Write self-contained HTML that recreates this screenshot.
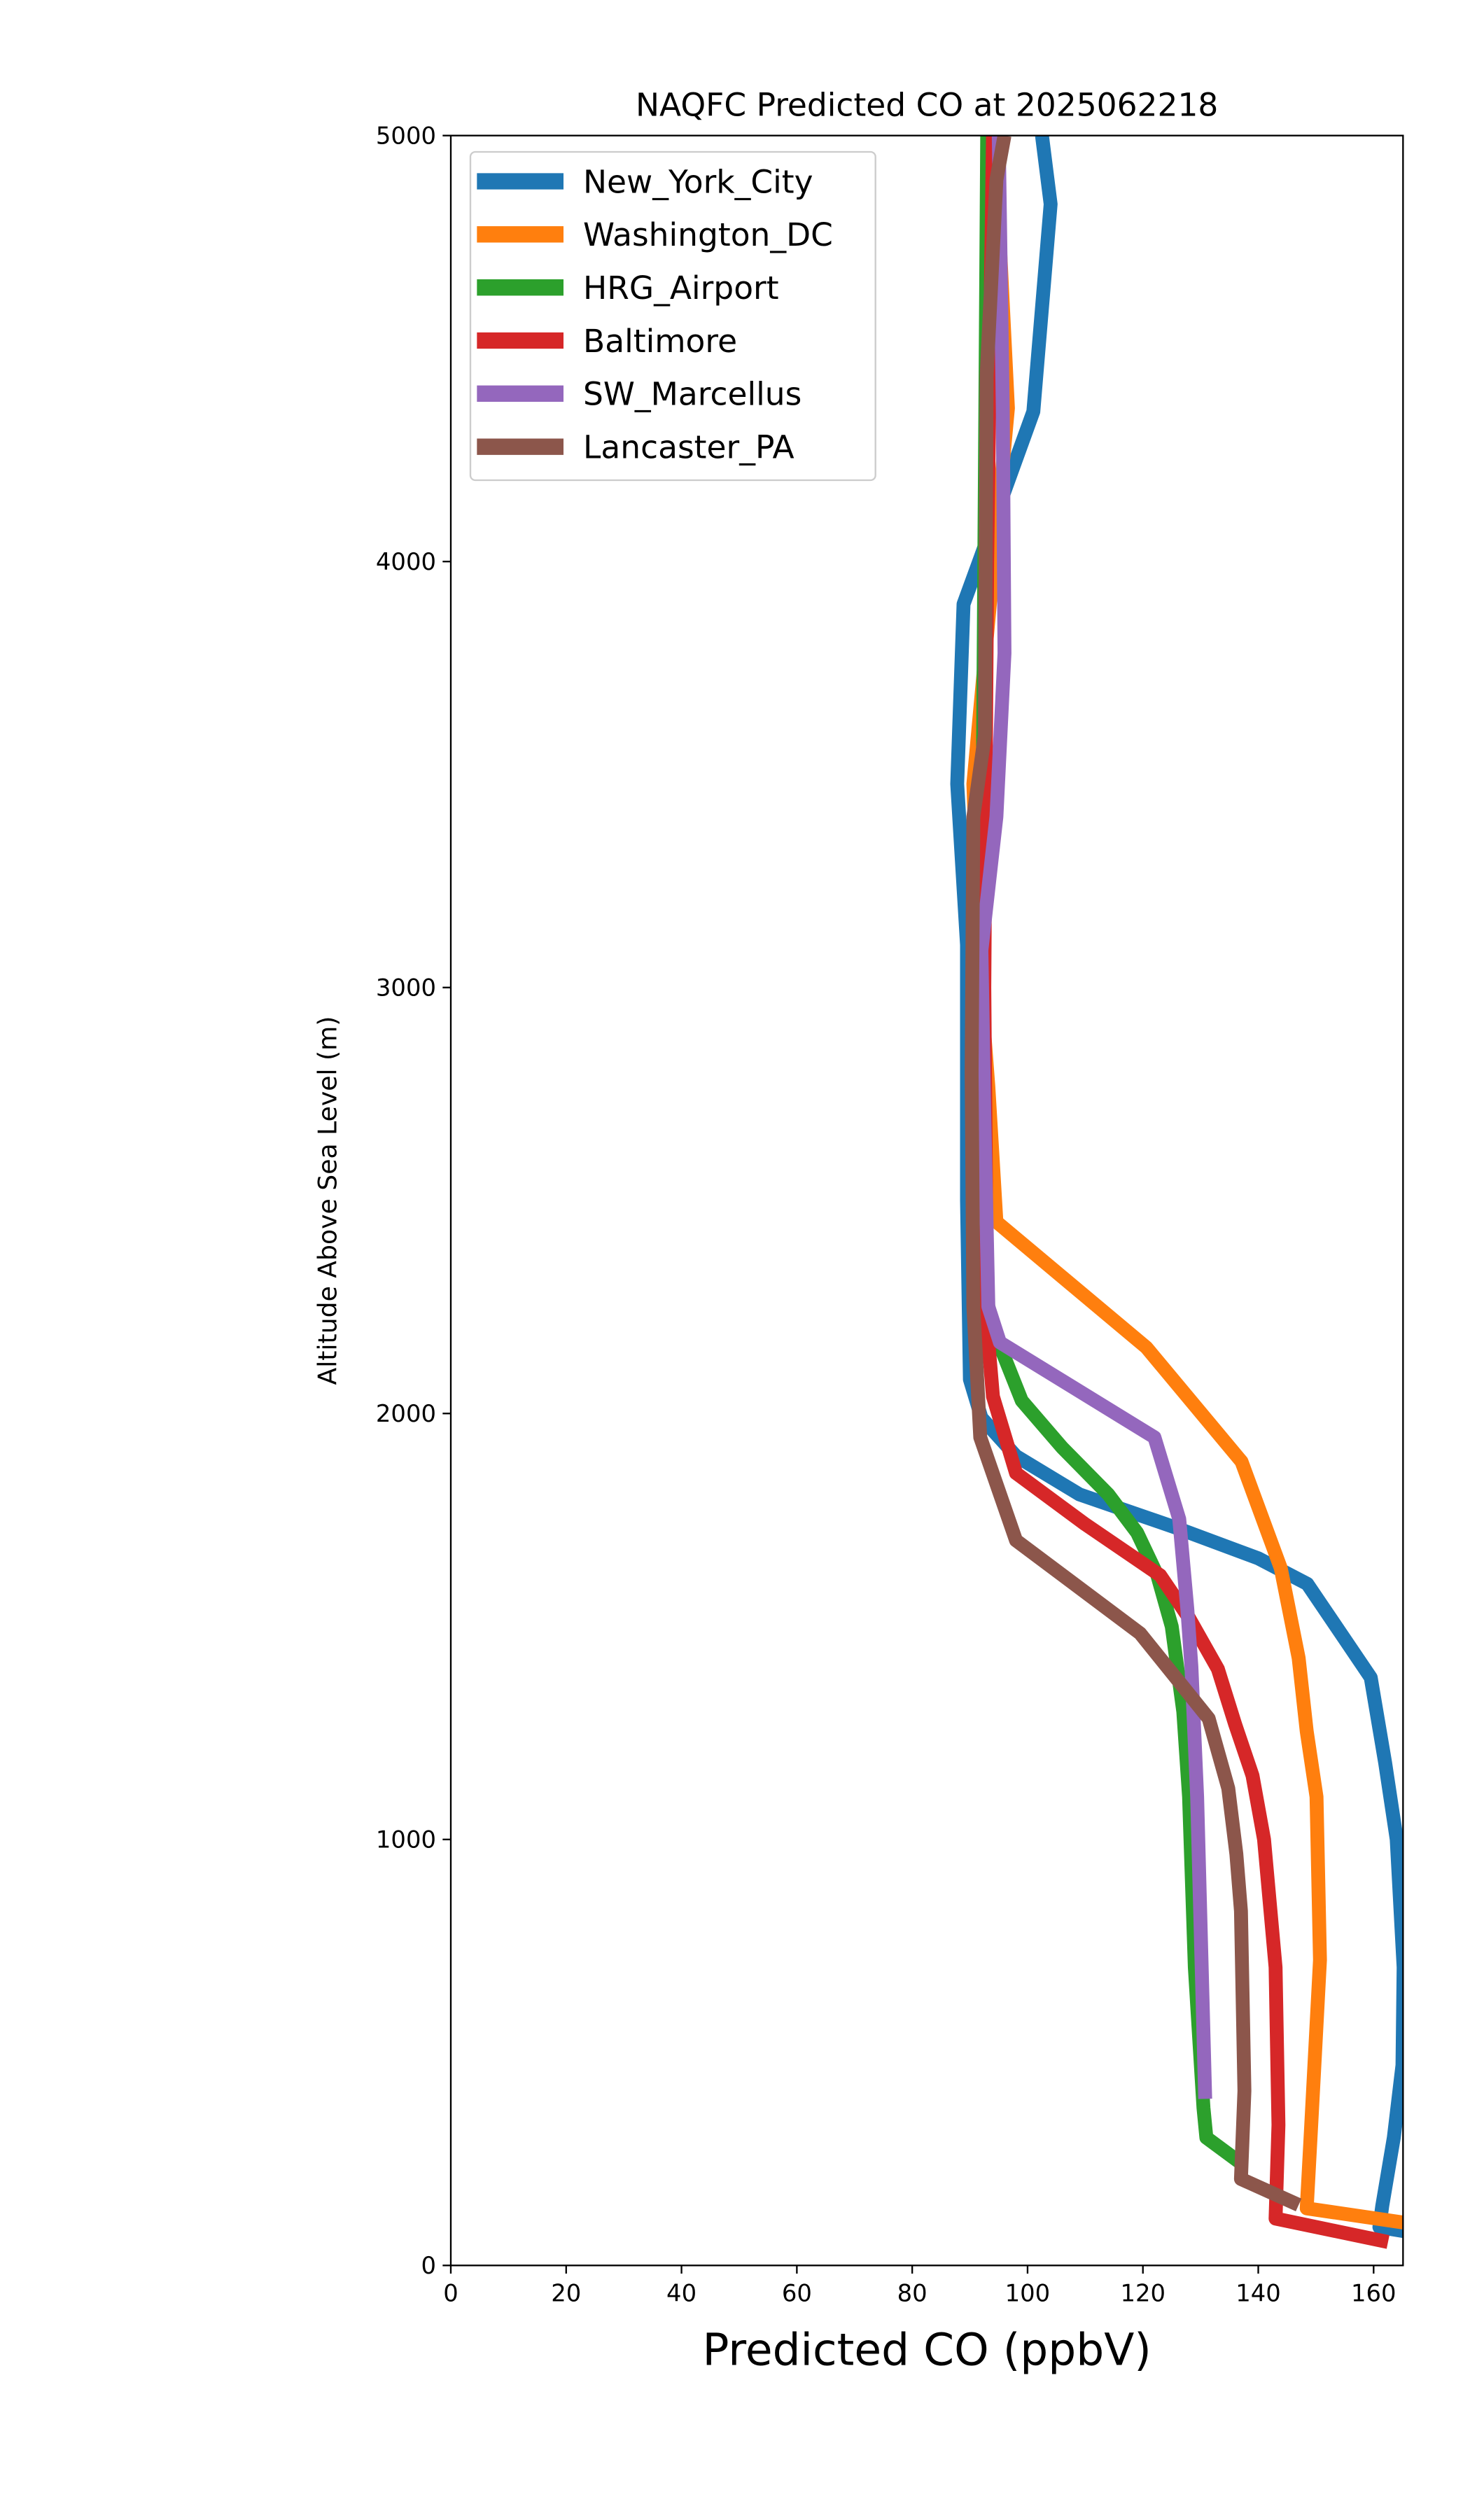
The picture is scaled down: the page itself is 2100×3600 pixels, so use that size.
<!DOCTYPE html>
<html><head><meta charset="utf-8"><style>
html,body{margin:0;padding:0;background:#fff}
svg{display:block}
text{font-family:"DejaVu Sans","Liberation Sans",sans-serif;fill:#000}
</style></head><body>
<svg id="chart" width="2100" height="3600" viewBox="0 0 900 1542.857" xmlns="http://www.w3.org/2000/svg">
<rect x="0" y="0" width="900" height="1543" fill="#fff"/>
<g id="plot"></g>
<g id="axes"></g>
<text x="567.5" y="71" font-size="19.5" text-anchor="middle">NAQFC Predicted CO at 2025062218</text>
<text x="0" y="0" font-size="15.5" text-anchor="middle" transform="translate(206,735) rotate(-90)">Altitude Above Sea Level (m)</text>
<text x="567.5" y="1448" font-size="27" text-anchor="middle">Predicted CO (ppbV)</text>
<g id="legend"></g>
</svg>
<script>
const seriesNames = ["New_York_City","Washington_DC","HRG_Airport","Baltimore","SW_Marcellus","Lancaster_PA"];
const seriesColors = ["#1f77b4","#ff7f0e","#2ca02c","#d62728","#9467bd","#8c564b"];
const xTicks = [0,20,40,60,80,100,120,140,160];
const yTicks = [0,1000,2000,3000,4000,5000];
// each series: [CO ppbV, altitude m]
const nycValues = [[165.5,80],[161,90],[161.5,140],[163.5,300],[165,470],[165.2,700],[164,1000],[162,1180],[159.5,1380],[148.5,1600],[140,1660],[125.5,1733],[109,1810],[98,1900],[92,1990],[90,2080],[89.5,2500],[89.5,3100],[87.8,3478],[88.9,3900],[92,4015],[101,4352],[104,4839],[102.5,5000]];
const dcValues = [[165.5,100],[148.4,134],[149.2,334],[150.7,717],[150.1,1100],[148.4,1254],[147,1426],[143.9,1637],[137.1,1887],[120.6,2155],[94.6,2450],[93.2,2768],[91.8,3018],[90.6,3478],[93.2,3861],[96.6,4360],[95.2,4744],[93.7,5000]];
const hrgValues = [[137,240],[131,300],[130.5,370],[129,700],[128,1100],[127,1300],[125,1500],[122.5,1620],[119,1720],[114,1810],[106,1920],[99,2030],[94,2200],[92,2330],[92,3000],[92.5,4000],[93,5000]];
const baltValues = [[162.5,55],[143,110],[143.5,330],[143,700],[141,1000],[139,1150],[136,1270],[133,1400],[128,1520],[123,1620],[110,1740],[98,1860],[94,2040],[93,2200],[92.5,3000],[93,4000],[94,5000]];
const swmValues = [[130.8,391],[129.4,1100],[128.4,1407],[127.7,1541],[126.3,1752],[122,1944],[95.2,2167],[93.2,2251],[92.5,2700],[92,3087],[94.6,3401],[96,3785],[95.7,4360],[95,5000]];
const lancValues = [[147,142],[137,203],[137.6,410],[137,832],[136.2,966],[134.8,1120],[131.4,1284],[119.5,1484],[98,1702],[91.8,1944],[90.6,2251],[90.3,2800],[90.6,3401],[92.6,3593],[92.9,4436],[94.6,4896],[96,5000]];
const allSeries = [nycValues,dcValues,hrgValues,baltValues,swmValues,lancValues];

const L=276,R=859,T=83,B=1387,XMAX=165.1,YMAX=5000;
function xs(v){return L+(v/XMAX)*(R-L);}
function ys(v){return B-(v/YMAX)*(B-T);}
const NS="http://www.w3.org/2000/svg";
function mk(tag,attrs,parent){const e=document.createElementNS(NS,tag);for(const k in attrs)e.setAttribute(k,attrs[k]);parent.appendChild(e);return e;}
const plot=document.getElementById('plot'),axes=document.getElementById('axes'),legend=document.getElementById('legend');
mk('clipPath',{id:'clip'},plot);
const cr=mk('rect',{x:L,y:T,width:R-L,height:B-T},document.getElementById('clip'));
allSeries.forEach((s,i)=>{
  const p=mk('polyline',{points:s.map(d=>xs(d[0]).toFixed(2)+','+ys(d[1]).toFixed(2)).join(' '),fill:'none',stroke:seriesColors[i],'stroke-width':8.5,'stroke-linejoin':'round','stroke-linecap':'butt','clip-path':'url(#clip)'},plot);
  
  
});
const frame=mk('rect',{x:L,y:T,width:R-L,height:B-T,fill:'none',stroke:'#000','stroke-width':1},axes);


xTicks.forEach(t=>{
  const x=xs(t);
  const tk=mk('line',{x1:x,y1:B,x2:x,y2:B+5,stroke:'#000','stroke-width':1},axes);
  
  
  const tl=mk('text',{x:x,y:B+22,'font-size':14.5,'text-anchor':'middle'},axes);
  tl.textContent=t;
  
  
});
yTicks.forEach(t=>{
  const y=ys(t);
  const tk=mk('line',{x1:L-5,y1:y,x2:L,y2:y,stroke:'#000','stroke-width':1},axes);
  
  
  const tl=mk('text',{x:L-9,y:y+5,'font-size':14.5,'text-anchor':'end'},axes);
  tl.textContent=t;
  
  
});
const lb=mk('rect',{x:288,y:93,width:248,height:201,rx:3,fill:'#fff','fill-opacity':0.8,stroke:'#ccc','stroke-width':1},legend);


seriesNames.forEach((n,i)=>{
  const y=111+i*32.5;
  const ln=mk('line',{x1:292,y1:y,x2:345,y2:y,stroke:seriesColors[i],'stroke-width':10},legend);
  
  
  const tx=mk('text',{x:357,y:y+7,'font-size':19.5},legend);
  tx.textContent=n;
  
  
});
</script>
</body></html>
